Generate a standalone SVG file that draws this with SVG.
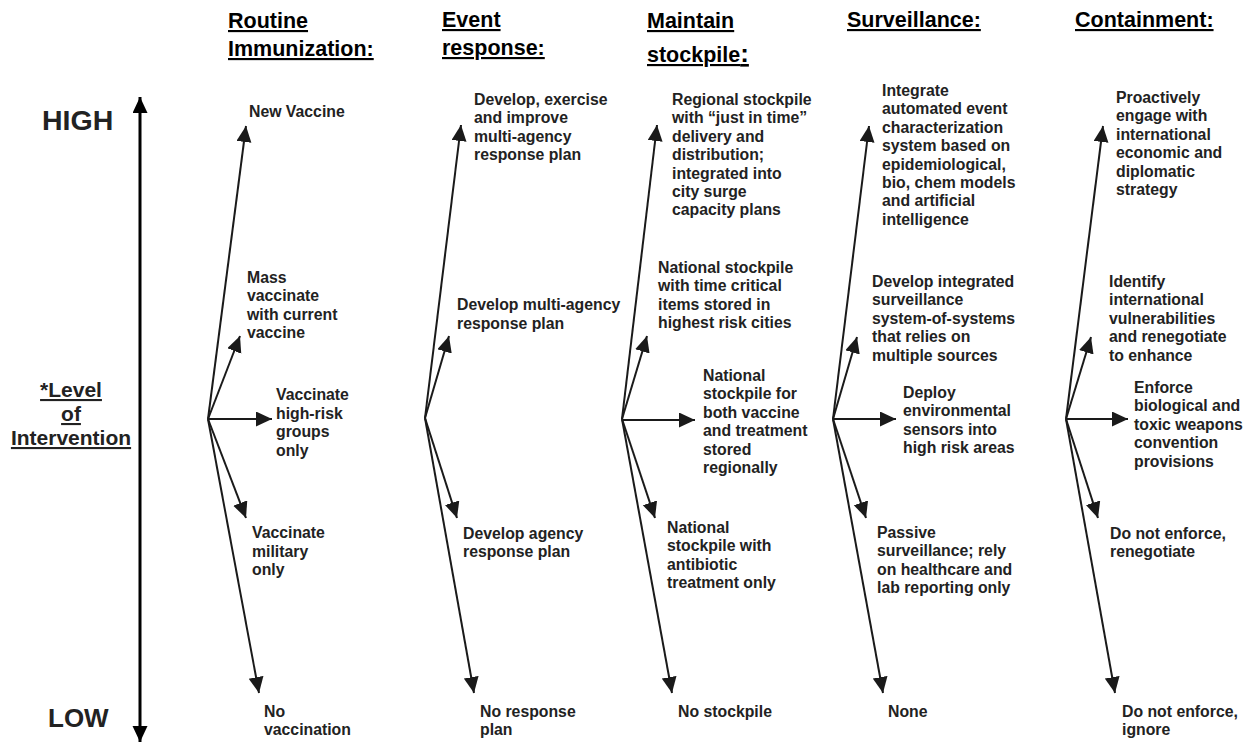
<svg xmlns="http://www.w3.org/2000/svg" width="1248" height="743" viewBox="0 0 1248 743">
<style>
text{font-family:"Liberation Sans",Arial,sans-serif;font-weight:bold}
.h{font-size:21.5px;fill:#000;text-decoration:underline;text-decoration-thickness:2.5px;text-underline-offset:3px}
.b{font-size:15.8px;fill:#222}
.big{fill:#222}
.c line{stroke:#1a1a1a;stroke-width:2;marker-end:url(#ah)}
</style>
<defs>
<marker id="ah" markerUnits="userSpaceOnUse" markerWidth="17" markerHeight="16" refX="16" refY="7.5" orient="auto" viewBox="0 0 17 16">
<path d="M0,0 L16,7.5 L0,15 Z" fill="#1a1a1a"/>
</marker>
<marker id="ax" markerUnits="userSpaceOnUse" markerWidth="17" markerHeight="16" refX="16" refY="7.5" orient="auto-start-reverse" viewBox="0 0 17 16">
<path d="M0,0 L16,7.5 L0,15 Z" fill="#000"/>
</marker>
</defs>
<rect width="1248" height="743" fill="#fff"/>

<g id="axis">
<line x1="140" y1="97" x2="140" y2="742" stroke="#000" stroke-width="3" marker-start="url(#ax)" marker-end="url(#ax)"/>
<text x="42" y="130" class="big" style="font-size:28.5px">HIGH</text>
<text x="48" y="727" class="big" style="font-size:26px">LOW</text>
<text class="big" style="font-size:21px;text-decoration:underline;text-decoration-thickness:2px;text-underline-offset:3px" text-anchor="middle"><tspan x="71" y="397">*Level</tspan><tspan x="71" y="421">of</tspan><tspan x="71" y="445">Intervention</tspan></text>
</g>

<g id="headers">
<text class="h"><tspan x="228" y="28">Routine</tspan><tspan x="228" y="56">Immunization:</tspan></text>
<text class="h"><tspan x="442" y="27">Event</tspan><tspan x="442" y="55">response:</tspan></text>
<text class="h"><tspan x="647" y="28">Maintain</tspan><tspan x="647" y="62">stockpile<tspan style="font-size:26px">:</tspan></tspan></text>
<text class="h" x="847" y="27">Surveillance:</text>
<text class="h" x="1075" y="27">Containment:</text>
</g>

<g id="connectors" class="c">
<line x1="208" y1="419" x2="246" y2="126"/>
<line x1="208" y1="419" x2="240" y2="336"/>
<line x1="208" y1="419" x2="272" y2="419"/>
<line x1="208" y1="419" x2="246" y2="518"/>
<line x1="208" y1="419" x2="259" y2="693"/>

<line x1="425" y1="418" x2="461" y2="125"/>
<line x1="425" y1="418" x2="449" y2="336"/>
<line x1="425" y1="418" x2="457" y2="518"/>
<line x1="425" y1="418" x2="474" y2="693"/>

<line x1="622" y1="419" x2="657" y2="125"/>
<line x1="622" y1="419" x2="647" y2="336"/>
<line x1="622" y1="420" x2="695" y2="420"/>
<line x1="622" y1="419" x2="655" y2="518"/>
<line x1="622" y1="419" x2="672" y2="693"/>

<line x1="833" y1="419" x2="869" y2="126"/>
<line x1="833" y1="419" x2="857" y2="337"/>
<line x1="833" y1="419" x2="896" y2="419"/>
<line x1="833" y1="419" x2="866" y2="518"/>
<line x1="833" y1="419" x2="883" y2="693"/>

<line x1="1066" y1="419" x2="1103" y2="126"/>
<line x1="1066" y1="419" x2="1091" y2="337"/>
<line x1="1066" y1="419" x2="1128" y2="419"/>
<line x1="1066" y1="419" x2="1098" y2="518"/>
<line x1="1066" y1="419" x2="1115" y2="693"/>
</g>

<g id="routine-immunization">
<g id="ri-new"><text class="b" x="249" y="117">New Vaccine</text></g>
<g id="ri-mass"><text class="b"><tspan x="247" y="283">Mass</tspan><tspan x="247" y="301.3">vaccinate</tspan><tspan x="247" y="319.6">with current</tspan><tspan x="247" y="338">vaccine</tspan></text></g>
<g id="ri-highrisk"><text class="b"><tspan x="276" y="400">Vaccinate</tspan><tspan x="276" y="418.5">high-risk</tspan><tspan x="276" y="437">groups</tspan><tspan x="276" y="455.5">only</tspan></text></g>
<g id="ri-military"><text class="b"><tspan x="252" y="538">Vaccinate</tspan><tspan x="252" y="556.5">military</tspan><tspan x="252" y="575">only</tspan></text></g>
<g id="ri-none"><text class="b"><tspan x="264" y="717">No</tspan><tspan x="264" y="735">vaccination</tspan></text></g>
</g>

<g id="event-response">
<g id="er-1"><text class="b"><tspan x="474" y="105">Develop, exercise</tspan><tspan x="474" y="123.4">and improve</tspan><tspan x="474" y="141.8">multi-agency</tspan><tspan x="474" y="160.2">response plan</tspan></text></g>
<g id="er-2"><text class="b"><tspan x="457" y="310">Develop multi-agency</tspan><tspan x="457" y="329">response plan</tspan></text></g>
<g id="er-3"><text class="b"><tspan x="463" y="539">Develop agency</tspan><tspan x="463" y="557">response plan</tspan></text></g>
<g id="er-4"><text class="b"><tspan x="480" y="717">No response</tspan><tspan x="480" y="735">plan</tspan></text></g>
</g>

<g id="stockpile">
<g id="sp-1"><text class="b"><tspan x="672" y="105">Regional stockpile</tspan><tspan x="672" y="123.4">with “just in time”</tspan><tspan x="672" y="141.8">delivery and</tspan><tspan x="672" y="160.2">distribution;</tspan><tspan x="672" y="178.6">integrated into</tspan><tspan x="672" y="197">city surge</tspan><tspan x="672" y="215.4">capacity plans</tspan></text></g>
<g id="sp-2"><text class="b"><tspan x="658" y="273">National stockpile</tspan><tspan x="658" y="291.4">with time critical</tspan><tspan x="658" y="309.8">items stored in</tspan><tspan x="658" y="328.2">highest risk cities</tspan></text></g>
<g id="sp-3"><text class="b"><tspan x="703" y="381">National</tspan><tspan x="703" y="399.4">stockpile for</tspan><tspan x="703" y="417.8">both vaccine</tspan><tspan x="703" y="436.2">and treatment</tspan><tspan x="703" y="454.6">stored</tspan><tspan x="703" y="473">regionally</tspan></text></g>
<g id="sp-4"><text class="b"><tspan x="667" y="533">National</tspan><tspan x="667" y="551.4">stockpile with</tspan><tspan x="667" y="569.8">antibiotic</tspan><tspan x="667" y="588.2">treatment only</tspan></text></g>
<g id="sp-5"><text class="b" x="678" y="717">No stockpile</text></g>
</g>

<g id="surveillance">
<g id="sv-1"><text class="b"><tspan x="882" y="96">Integrate</tspan><tspan x="882" y="114.4">automated event</tspan><tspan x="882" y="132.8">characterization</tspan><tspan x="882" y="151.2">system based on</tspan><tspan x="882" y="169.6">epidemiological,</tspan><tspan x="882" y="188">bio, chem models</tspan><tspan x="882" y="206.4">and artificial</tspan><tspan x="882" y="224.8">intelligence</tspan></text></g>
<g id="sv-2"><text class="b"><tspan x="872" y="287">Develop integrated</tspan><tspan x="872" y="305.4">surveillance</tspan><tspan x="872" y="323.8">system-of-systems</tspan><tspan x="872" y="342.2">that relies on</tspan><tspan x="872" y="360.6">multiple sources</tspan></text></g>
<g id="sv-3"><text class="b"><tspan x="903" y="398">Deploy</tspan><tspan x="903" y="416.4">environmental</tspan><tspan x="903" y="434.8">sensors into</tspan><tspan x="903" y="453.2">high risk areas</tspan></text></g>
<g id="sv-4"><text class="b"><tspan x="877" y="538">Passive</tspan><tspan x="877" y="556.4">surveillance; rely</tspan><tspan x="877" y="574.8">on healthcare and</tspan><tspan x="877" y="593.2">lab reporting only</tspan></text></g>
<g id="sv-5"><text class="b" x="888" y="717">None</text></g>
</g>

<g id="containment">
<g id="ct-1"><text class="b"><tspan x="1116" y="103">Proactively</tspan><tspan x="1116" y="121.4">engage with</tspan><tspan x="1116" y="139.8">international</tspan><tspan x="1116" y="158.2">economic and</tspan><tspan x="1116" y="176.6">diplomatic</tspan><tspan x="1116" y="195">strategy</tspan></text></g>
<g id="ct-2"><text class="b"><tspan x="1109" y="287">Identify</tspan><tspan x="1109" y="305.4">international</tspan><tspan x="1109" y="323.8">vulnerabilities</tspan><tspan x="1109" y="342.2">and renegotiate</tspan><tspan x="1109" y="360.6">to enhance</tspan></text></g>
<g id="ct-3"><text class="b"><tspan x="1134" y="393">Enforce</tspan><tspan x="1134" y="411.4">biological and</tspan><tspan x="1134" y="429.8">toxic weapons</tspan><tspan x="1134" y="448.2">convention</tspan><tspan x="1134" y="466.6">provisions</tspan></text></g>
<g id="ct-4"><text class="b"><tspan x="1110" y="539">Do not enforce,</tspan><tspan x="1110" y="557">renegotiate</tspan></text></g>
<g id="ct-5"><text class="b"><tspan x="1122" y="717">Do not enforce,</tspan><tspan x="1122" y="735">ignore</tspan></text></g>
</g>
</svg>
